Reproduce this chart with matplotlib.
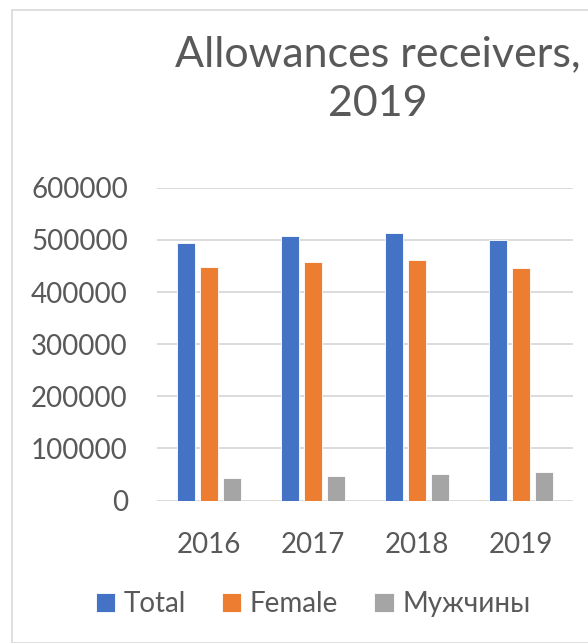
import matplotlib
matplotlib.use("Agg")
import matplotlib.pyplot as plt
import numpy as np
from matplotlib.patches import Rectangle

years = ["2016", "2017", "2018", "2019"]
total = [494000, 507000, 513000, 500500]
female = [447500, 458500, 461000, 445500]
male = [44000, 46500, 51000, 54000]
series_names = ["Total", "Female", "Мужчины"]
colors = ["#4472C4", "#ED7D31", "#A5A5A5"]
yticks = [0, 100000, 200000, 300000, 400000, 500000, 600000]
title = "Allowances receivers,\n2019"

W, H = 588, 643
fig = plt.figure(figsize=(W / 100, H / 100), dpi=100)
fam = ["Lato", "DejaVu Sans"]
txt = "#595959"

ax = fig.add_axes([157 / W, 1 - 500.5 / H, (573 - 157) / W, (500.5 - 187.8) / H])
x = np.arange(len(years))
bw = 18 / 104
step = 23 / 104
for i, (vals, name, c) in enumerate(zip([total, female, male], series_names, colors)):
    ax.bar(x + (i - 1) * step, vals, width=bw, color=c, label=name,
           edgecolor="white", linewidth=0.6, zorder=3)

ax.set_xlim(-0.5, len(years) - 0.5)
ax.set_ylim(0, 600000)
ax.set_yticks(yticks)
ax.set_yticklabels([str(v) for v in yticks], fontsize=20, color=txt, family=fam)
ax.set_xticks(x)
ax.set_xticklabels(years, fontsize=20, color=txt, family=fam)
ax.tick_params(axis="both", length=0)
ax.tick_params(axis="y", pad=21)
ax.tick_params(axis="x", pad=23)
ax.grid(axis="y", color="#D9D9D9", linewidth=1.3, zorder=0)
for s in ax.spines.values():
    s.set_visible(False)

fig.text(378 / W, 1 - 79 / H, title, ha="center", va="center", fontsize=31,
         color=txt, family=fam, weight="normal", linespacing=1.4)

leg = fig.legend(loc="center", bbox_to_anchor=(313 / W, 1 - 604 / H), ncol=3,
                 frameon=False, prop={"family": fam, "size": 20},
                 handlelength=0.7, handleheight=0.7, handletextpad=0.3,
                 columnspacing=1.3)
for t in leg.get_texts():
    t.set_color(txt)

fig.patches.append(Rectangle((12 / W, 0), 1, 1 - 10 / H, transform=fig.transFigure,
                             fill=False, edgecolor="#D9D9D9", linewidth=1.2))

fig.savefig("out.png", dpi=100)
